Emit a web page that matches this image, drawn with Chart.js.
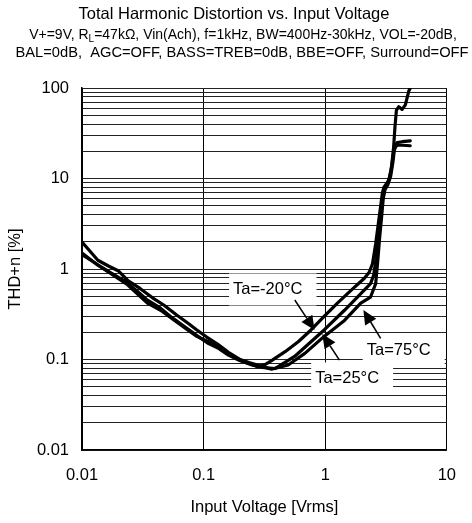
<!DOCTYPE html>
<html>
<head>
<meta charset="utf-8">
<script src="https://cdn.jsdelivr.net/npm/chart.js@4.4.1/dist/chart.umd.min.js"></script>
<style>
  html, body { margin: 0; padding: 0; background: #fff; }
  canvas { display: block; }
</style>
</head>
<body>
<canvas id="grafico" width="472" height="523"></canvas>
<script>
// THD+n [%] x tensao de entrada [Vrms], tres temperaturas
const vinM20 = [0.01, 0.0135, 0.0173, 0.0237, 0.03, 0.0345, 0.0443, 0.06, 0.075, 0.088, 0.106, 0.13, 0.16, 0.2, 0.24, 0.28, 0.32, 0.362, 0.468, 0.6, 0.764, 0.98, 1.26, 1.63, 2.1, 2.3, 2.45, 2.6, 2.72, 2.86, 2.95, 3.04, 3.2, 3.34, 3.5, 3.65, 3.75, 3.85, 4.03, 4.29, 4.56, 4.86, 5.0]
const thdM20 = [1.5, 1.1, 0.89, 0.67, 0.5, 0.42, 0.35, 0.26, 0.21, 0.18, 0.16, 0.14, 0.115, 0.098, 0.09, 0.083, 0.088, 0.097, 0.122, 0.157, 0.212, 0.30, 0.42, 0.58, 0.79, 0.92, 1.15, 1.9, 3.0, 5.0, 6.9, 8.0, 8.8, 9.6, 13, 22, 38, 57, 62, 58, 65, 92, 100]

const vin25 = [0.01, 0.013, 0.017, 0.022, 0.028, 0.034, 0.043, 0.055, 0.07, 0.09, 0.11, 0.13, 0.16, 0.2, 0.25, 0.3, 0.386, 0.56, 0.764, 0.98, 1.44, 1.84, 2.36, 2.5, 2.62, 2.75, 2.88, 2.98, 3.08, 3.25, 3.4, 3.56, 3.67, 3.78, 3.91, 4.3, 5.0]
const thd25 = [1.44, 1.15, 0.92, 0.75, 0.58, 0.46, 0.38, 0.29, 0.23, 0.18, 0.15, 0.135, 0.112, 0.097, 0.087, 0.082, 0.0795, 0.108, 0.157, 0.212, 0.35, 0.49, 0.69, 0.85, 1.3, 2.3, 4.2, 6.3, 7.8, 8.9, 10.5, 15, 21, 23.5, 25, 25.5, 26]

const vin75 = [0.01, 0.0115, 0.0135, 0.0165, 0.02, 0.024, 0.03, 0.038, 0.047, 0.06, 0.075, 0.088, 0.106, 0.13, 0.16, 0.2, 0.24, 0.29, 0.362, 0.496, 0.68, 0.98, 1.44, 1.96, 2.36, 2.6, 2.7, 2.8, 2.92, 3.0, 3.1, 3.28, 3.45, 3.6, 3.7, 3.8, 3.95, 4.3, 5.0]
const thd75 = [1.98, 1.6, 1.25, 1.08, 0.95, 0.74, 0.61, 0.48, 0.40, 0.31, 0.25, 0.212, 0.177, 0.148, 0.12, 0.1, 0.092, 0.085, 0.078, 0.087, 0.117, 0.18, 0.27, 0.42, 0.49, 0.69, 1.2, 2.2, 4.0, 6.0, 7.5, 8.6, 10.5, 15, 20.5, 22.5, 23.5, 23.3, 23]

// rotulos dos eixos (so nas decadas)
const ticksX = [0.01, 0.1, 1, 10]
const ticksY = [0.01, 0.1, 1, 10, 100]

// legendas das curvas e setas (em unidades do grafico)
const notaTexto = ['Ta=-20°C', 'Ta=25°C', 'Ta=75°C']
const notaX = [0.337, 1.514, 4.02]
const notaY = [0.594, 0.0617, 0.1258]
const setaDeX = [0.562, 1.31, 2.855]
const setaDeY = [0.454, 0.0986, 0.171]
const setaAteX = [0.818, 0.946, 2.06]
const setaAteY = [0.212, 0.191, 0.352]

const fonte = '"Liberation Sans", Arial, sans-serif'

// linhas horizontais em 1..9 de cada decada
let linhasY = []
for (let e = -2; e < 2; e++) {
    for (let s = 1; s < 10; s++) linhasY.push(parseFloat((s * Math.pow(10, e)).toPrecision(3)))
}
linhasY.push(100)

function pontos(xs, ys) {
    return xs.map((x, i) => ({x: x, y: ys[i]}))
}

function curva(xs, ys) {
    return {
        data: pontos(xs, ys),
        borderColor: '#000',
        borderWidth: 3.2,
        pointRadius: 0,
        fill: false,
        tension: 0,
        borderJoinStyle: 'round',
        borderCapStyle: 'round'
    }
}

// titulo e condicoes de teste
const cabecalho = {
    id: 'cabecalho',
    afterDraw(chart) {
        const c = chart.ctx
        c.save()
        c.fillStyle = '#000'
        c.textBaseline = 'middle'
        c.textAlign = 'center'
        c.font = '16.5px ' + fonte
        c.fillText('Total Harmonic Distortion vs. Input Voltage', 234, 14)

        c.textAlign = 'left'
        const partes = [
            {t: 'V+=9V, R', sub: false},
            {t: 'L', sub: true},
            {t: '=47kΩ, Vin(Ach), f=1kHz, BW=400Hz-30kHz, VOL=-20dB,', sub: false}
        ]
        let total = 0
        partes.forEach(p => {
            c.font = (p.sub ? '10px ' : '14px ') + fonte
            p.w = c.measureText(p.t).width
            total += p.w
        })
        let x = 243 - total / 2
        partes.forEach(p => {
            c.font = (p.sub ? '10px ' : '14px ') + fonte
            c.fillText(p.t, x, p.sub ? 39 : 35)
            x += p.w
        })
        c.textAlign = 'center'
        c.font = '14.7px ' + fonte
        c.fillText('BAL=0dB,  AGC=OFF, BASS=TREB=0dB, BBE=OFF, Surround=OFF', 242, 53)
        c.restore()
    }
}

// caixas de texto com fundo branco e setas
const notas = {
    id: 'notas',
    beforeDatasetsDraw(chart) {
        const c = chart.ctx
        const sx = chart.scales.x, sy = chart.scales.y
        c.save()
        c.font = '16.5px ' + fonte
        c.textBaseline = 'middle'
        c.textAlign = 'center'
        notaTexto.forEach((t, i) => {
            const px = sx.getPixelForValue(notaX[i])
            const py = sy.getPixelForValue(notaY[i])
            const w = c.measureText(t).width
            c.fillStyle = '#fff'
            c.fillRect(px - w / 2 - 4, py - 16, w + 18, 32)
            c.fillStyle = '#000'
            c.fillText(t, px, py)
        })
        c.restore()
    },
    afterDatasetsDraw(chart) {
        const c = chart.ctx
        const sx = chart.scales.x, sy = chart.scales.y
        c.save()
        c.strokeStyle = '#000'
        c.fillStyle = '#000'
        c.lineWidth = 1.5
        setaDeX.forEach((v, i) => {
            const x0 = sx.getPixelForValue(v), y0 = sy.getPixelForValue(setaDeY[i])
            const x1 = sx.getPixelForValue(setaAteX[i]), y1 = sy.getPixelForValue(setaAteY[i])
            const ang = Math.atan2(y1 - y0, x1 - x0)
            const comp = 14, meia = 6.5
            const bx = x1 - comp * Math.cos(ang), by = y1 - comp * Math.sin(ang)
            c.beginPath()
            c.moveTo(x0, y0)
            c.lineTo(bx, by)
            c.stroke()
            c.beginPath()
            c.moveTo(x1, y1)
            c.lineTo(bx + meia * Math.sin(ang), by - meia * Math.cos(ang))
            c.lineTo(bx - meia * Math.sin(ang), by + meia * Math.cos(ang))
            c.closePath()
            c.fill()
        })
        c.restore()
    }
}

const ctx = document.getElementById('grafico')
let grafico = new Chart(ctx, {
    type: 'line',
    data: {
        datasets: [curva(vinM20, thdM20), curva(vin25, thd25), curva(vin75, thd75)]
    },
    plugins: [cabecalho, notas],
    options: {
        responsive: false,
        animation: false,
        devicePixelRatio: 1,
        layout: {padding: {top: 88, right: 22, left: 0, bottom: 0}},
        plugins: {
            legend: {display: false},
            tooltip: {enabled: false}
        },
        scales: {
            x: {
                type: 'logarithmic',
                min: 0.01,
                max: 10,
                afterFit: s => { s.height = 73 },
                afterBuildTicks: s => { s.ticks = ticksX.map(v => ({value: v})) },
                ticks: {
                    autoSkip: false,
                    maxRotation: 0,
                    padding: 16,
                    color: '#000',
                    font: {family: fonte, size: 16.5},
                    callback: v => String(v)
                },
                grid: {color: '#000', lineWidth: 1, drawTicks: false},
                border: {color: '#000', width: 1.5},
                title: {
                    display: true,
                    text: 'Input Voltage [Vrms]',
                    color: '#000',
                    font: {family: fonte, size: 16.5},
                    padding: {top: 0, bottom: 6}
                }
            },
            y: {
                type: 'logarithmic',
                min: 0.01,
                max: 100,
                afterFit: s => { s.width = 82 },
                afterBuildTicks: s => { s.ticks = linhasY.map(v => ({value: v})) },
                ticks: {
                    autoSkip: false,
                    padding: 13,
                    color: '#000',
                    font: {family: fonte, size: 16.5},
                    callback: v => ticksY.includes(v) ? String(v) : ''
                },
                grid: {color: '#222', lineWidth: 1, drawTicks: false},
                border: {color: '#000', width: 1.5},
                title: {
                    display: true,
                    text: 'THD+n [%]',
                    color: '#000',
                    font: {family: fonte, size: 16.5},
                    padding: {top: 6, bottom: 0}
                }
            }
        }
    }
})
</script>
</body>
</html>
